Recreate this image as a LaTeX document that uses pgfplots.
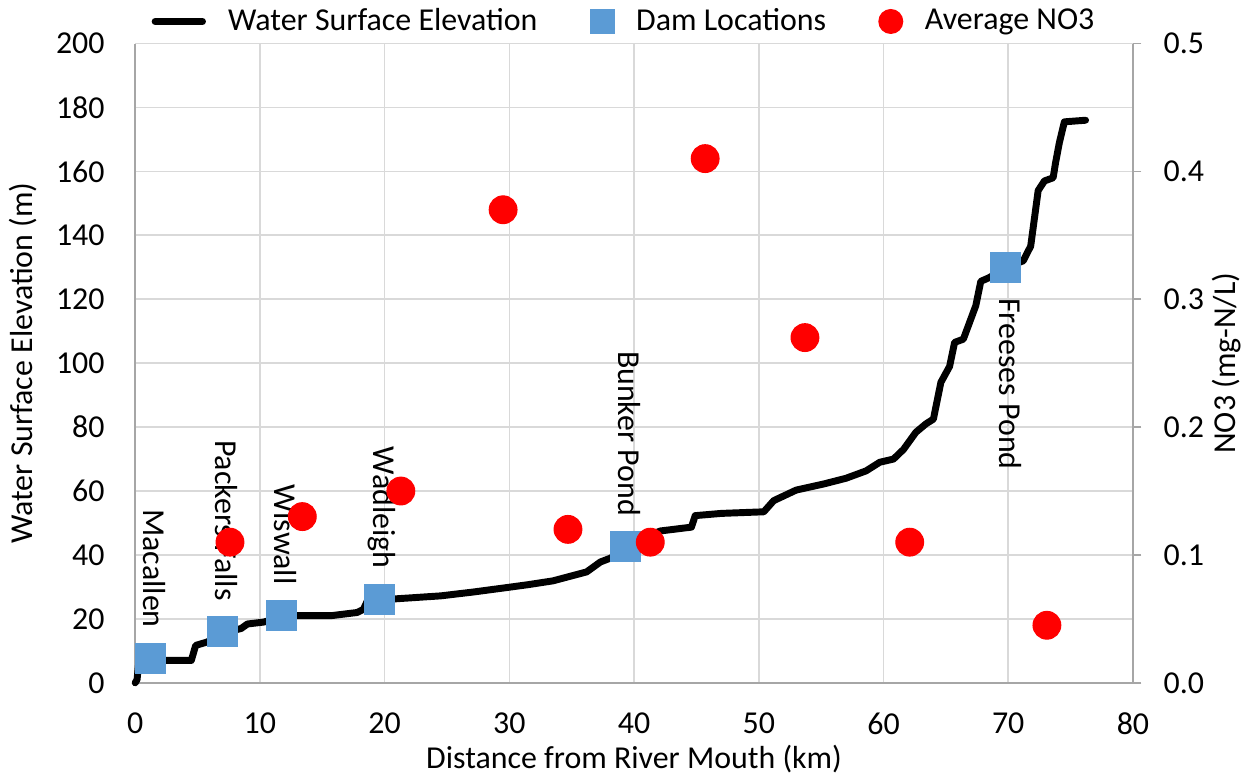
\documentclass[border=0pt]{standalone}
\usepackage{pgfplots}
\pgfplotsset{compat=1.18}
\usepackage{fontspec}
\setmainfont{Carlito}
\definecolor{damblue}{HTML}{5B9BD5}
\definecolor{gridgray}{HTML}{D9D9D9}
\definecolor{axgray}{HTML}{A6A6A6}
\begin{document}
\begin{tikzpicture}[font=\fontsize{11.5}{13}\selectfont]
\begin{axis}[
  scale only axis, width=359.6pt, height=230.4pt,
  xmin=0, xmax=80, ymin=0, ymax=200,
  xtick={0,10,...,80}, ytick={0,20,...,200},
  grid=major, major grid style={gridgray, line width=0.6pt},
  axis line style={axgray, line width=0.6pt},
  axis y line*=left, axis x line*=bottom,
  tick style={draw=none},
  /pgf/number format/assume math mode=true,
  yticklabel style={xshift=-7.5pt},
  xticklabel style={yshift=-7.2pt},
  xlabel={Distance from River Mouth (km)},
  ylabel={Water Surface Elevation (m)},
  xlabel style={yshift=3pt},
  ylabel style={yshift=0pt},
  clip=false,
  legend columns=3,
  legend style={draw=none, at={(0.5,1.0)}, anchor=south, xshift=-3pt, yshift=0pt, inner sep=1pt,
    /tikz/every even column/.append style={column sep=17pt},
    /tikz/every odd column/.append style={column sep=6pt}},
  legend cell align=left,
]
\addplot[black, line width=2.5pt, line join=round, line cap=round,
  legend image code/.code={\draw[black, line width=2.5pt] (0cm,0cm) -- (0.6cm,0cm);}] table {
0 0
0.15 1
0.3 6.8
1.5 7
3 7
4.5 7
4.85 11.7
5.8 12.8
7 15.5
8.5 17
9 18.4
10.3 19
11.7 20.5
13 21
15.7 21
17.8 22
18.3 23
18.6 25.5
19.6 26
21 26.3
24.5 27.2
27.1 28.4
29.8 29.8
31.5 30.7
33.5 31.9
36.2 34.7
37.3 37.8
38.1 39
39.3 42
40.5 45
42.1 47.5
44.6 48.7
44.9 52.3
47 53
50.4 53.5
51.2 57
53 60.3
55.2 62.2
57 64
58.6 66.3
59.7 69
60.8 70
61.6 73
62.6 78.4
63.4 81
64 82.5
64.6 94
65.3 99
65.7 106.5
66.4 107.5
67.4 118
67.8 125.6
68.5 126.8
69.8 130
71.2 132
71.8 136.6
72.4 154
72.9 157
73.6 158
73.8 162.8
74.1 169
74.5 175.5
76.2 176
};
\addlegendentry{Water Surface Elevation}
\addplot[only marks, mark=square*, mark size=5.4pt, mark options={draw=damblue, fill=damblue},
  legend image post style={mark size=4.3pt},
  point meta=explicit symbolic, nodes near coords,
  every node near coord/.style={black, font=\fontsize{11.5}{13}\selectfont, yshift=11pt, rotate=-90, anchor=mid east, inner sep=0pt}]
  table[meta=label] {
x y label
1.2 7.5 Macallen
7.0 16 {Packers Falls}
11.7 21 Wiswall
19.6 26 Wadleigh
39.3 42.5 {Bunker Pond}
};
\addlegendentry{Dam Locations}
\addplot[only marks, mark=square*, mark size=5.4pt, mark options={draw=damblue, fill=damblue},
  point meta=explicit symbolic, nodes near coords, forget plot,
  every node near coord/.style={black, font=\fontsize{11.5}{13}\selectfont, yshift=-11pt, rotate=-90, anchor=mid west, inner sep=0pt}]
  table[meta=label] {
x y label
69.8 130 {Freeses Pond}
};
\addlegendimage{only marks, mark=*, mark size=4.3pt, red}
\addlegendentry{Average NO3}
\end{axis}
\begin{axis}[
  scale only axis, width=359.6pt, height=230.4pt,
  xmin=0, xmax=80, ymin=0, ymax=0.5,
  axis y line*=right, axis x line=none,
  axis line style={axgray, line width=0.6pt},
  ytick={0,0.1,...,0.5},
  yticklabel style={/pgf/number format/.cd, fixed, fixed zerofill, precision=1, /tikz/.cd, xshift=4.5pt},
  /pgf/number format/assume math mode=true,
  tick style={axgray, line width=0.6pt}, tick align=outside, major tick length=3pt,
  ylabel={NO3 (mg-N/L)},
  ylabel style={yshift=4pt},
]
\addplot[only marks, mark=*, mark size=5pt, red] table {
7.6 0.11
13.4 0.13
21.3 0.15
29.5 0.37
34.7 0.12
41.3 0.11
45.7 0.41
53.7 0.27
62.1 0.11
73.1 0.045
};
\end{axis}
\end{tikzpicture}
\end{document}
